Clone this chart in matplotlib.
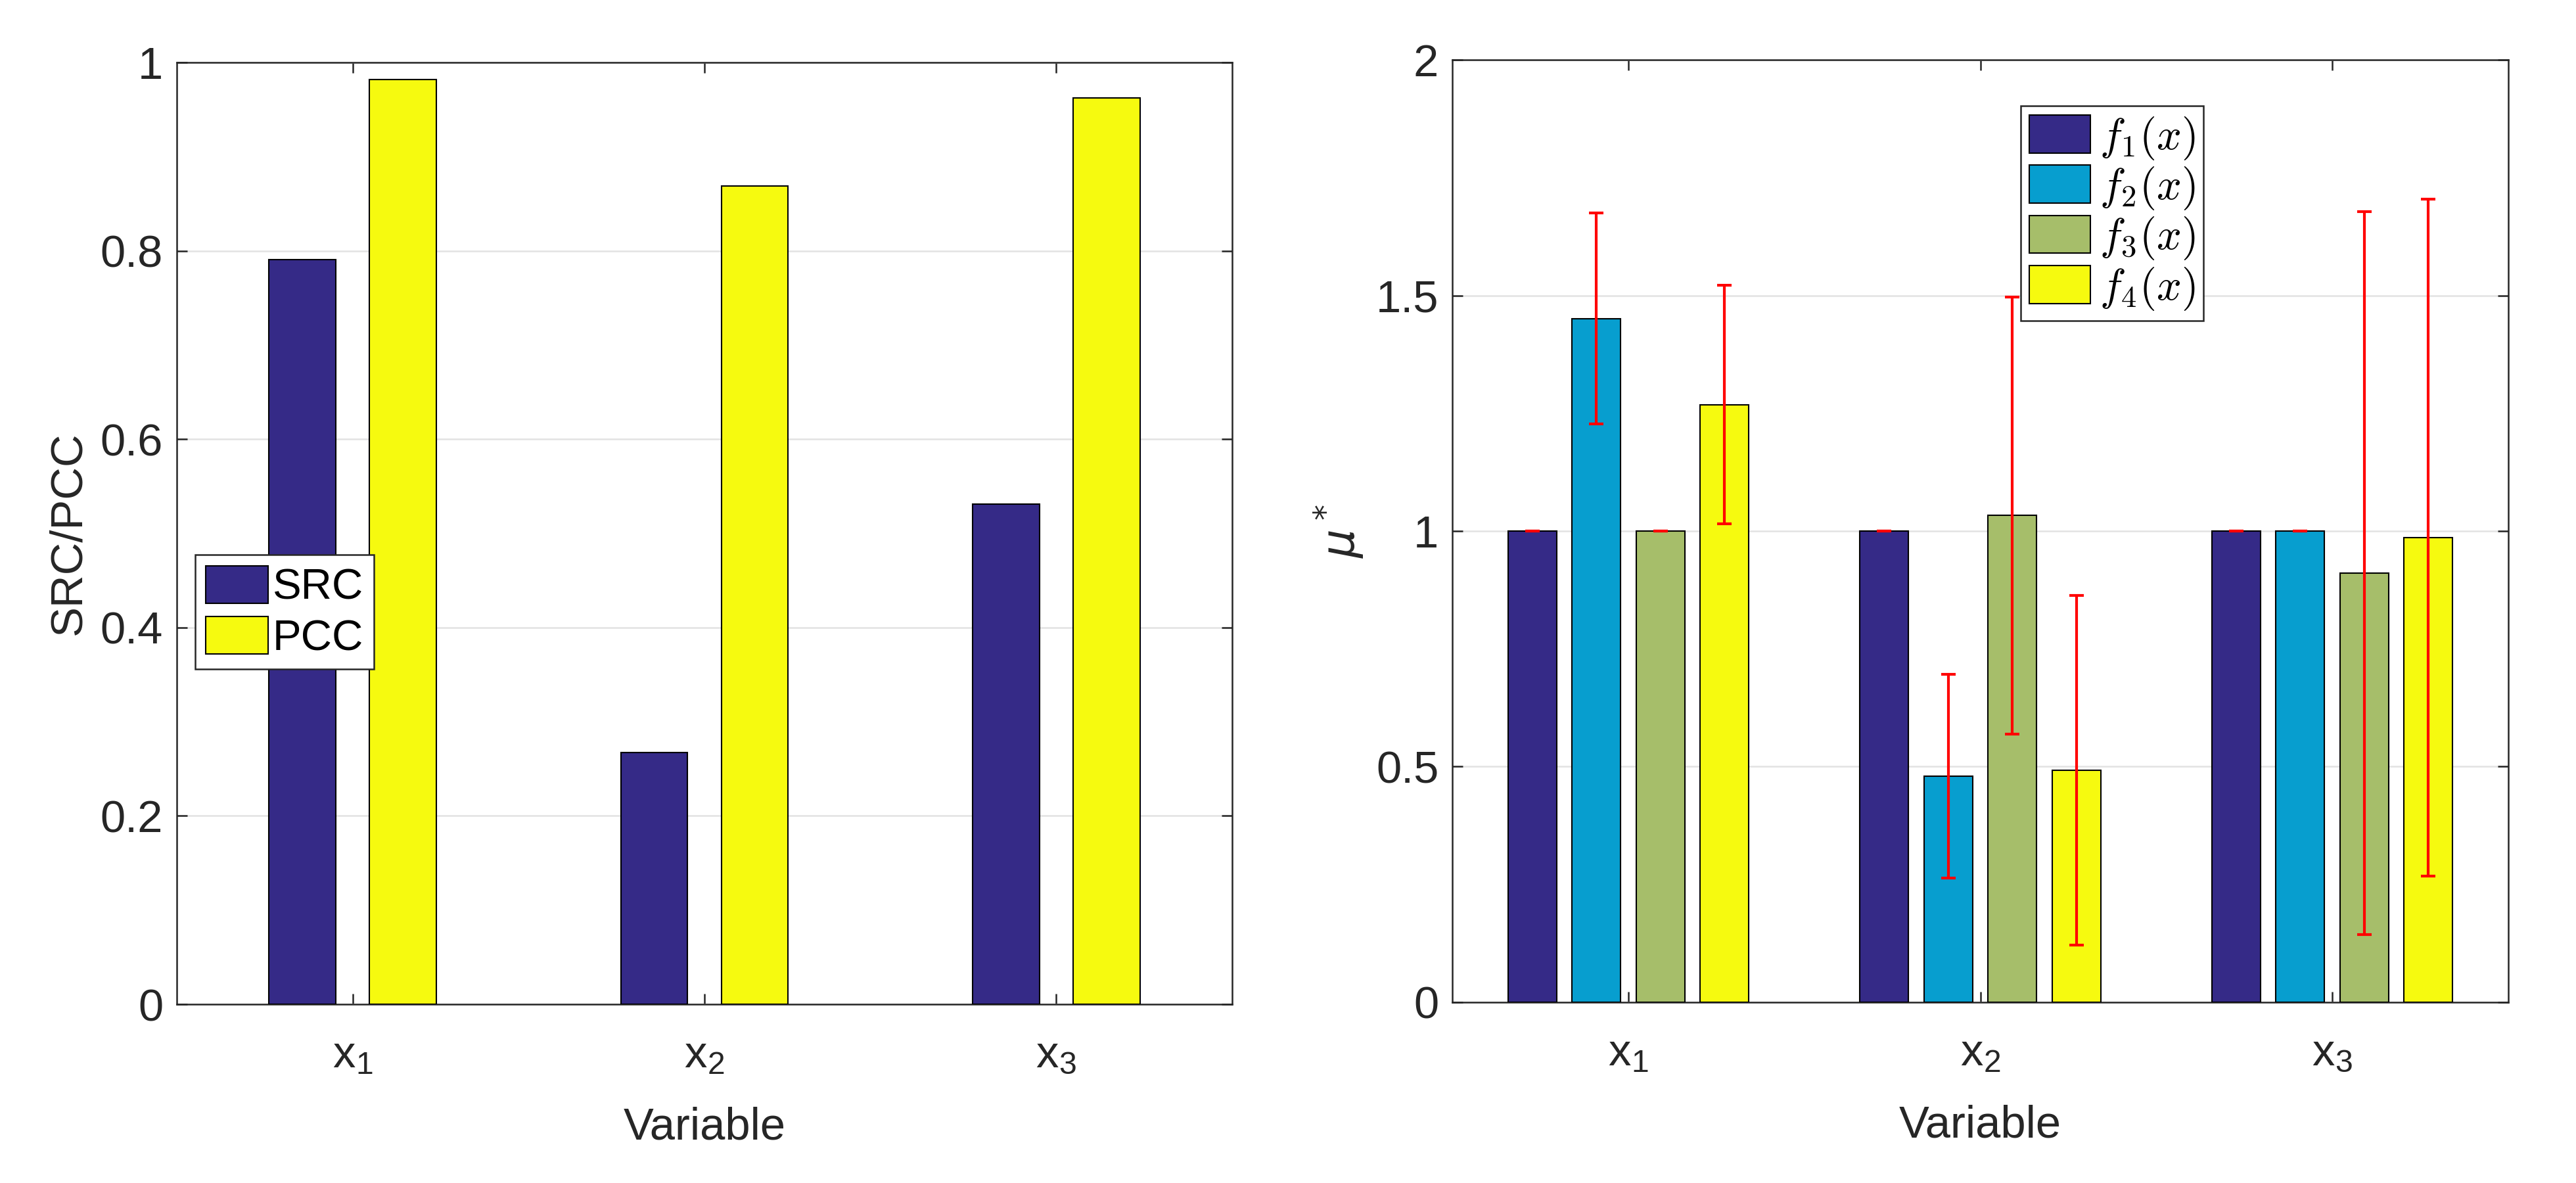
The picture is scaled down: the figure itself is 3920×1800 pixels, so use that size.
import matplotlib
matplotlib.use('Agg')
import matplotlib.pyplot as plt
from matplotlib.font_manager import FontProperties
from matplotlib.ticker import FixedLocator
import numpy as np

plt.rcParams['font.family'] = ['Liberation Sans', 'DejaVu Sans']
plt.rcParams['text.color'] = '#262626'
plt.rcParams['axes.labelcolor'] = '#262626'

# data
variables = [r'$\mathregular{x_1}$', r'$\mathregular{x_2}$', r'$\mathregular{x_3}$']
src = [0.791, 0.267, 0.531]
pcc = [0.982, 0.869, 0.962]

left_ticks = [0, 0.2, 0.4, 0.6, 0.8, 1]
left_ticklabels = ['0', '0.2', '0.4', '0.6', '0.8', '1']
right_ticks = [0, 0.5, 1, 1.5, 2]
right_ticklabels = ['0', '0.5', '1', '1.5', '2']

f_labels = [r'$f_1(x)$', r'$f_2(x)$', r'$f_3(x)$', r'$f_4(x)$']
# mu* per variable (rows) and function (cols)
mu_star = [
    [1.0, 1.451, 1.0, 1.268],
    [1.0, 0.480, 1.033, 0.492],
    [1.0, 1.0, 0.911, 0.986],
]
mu_err = [
    [0.0, 0.224, 0.0, 0.253],
    [0.0, 0.216, 0.464, 0.371],
    [0.0, 0.0, 0.767, 0.718],
]

dark_blue = '#352A87'
light_blue = '#079ECF'
green = '#A6BE6A'
yellow = '#F6FA0F'
edge = '#262626'
grid_col = '#E2E2E2'

fig = plt.figure(figsize=(13.0667, 6.0), dpi=300)
ax1 = fig.add_axes([0.0686, 0.1511, 0.4097, 0.7961])
ax2 = fig.add_axes([0.5638, 0.1528, 0.4099, 0.7966])


def style_axes(ax, ticks, ticklabels, ylim):
    ax.set_xlim(0.5, 3.5)
    ax.set_ylim(*ylim)
    ax.set_xticks([1, 2, 3])
    ax.set_xticklabels(variables)
    ax.yaxis.set_major_locator(FixedLocator(ticks))
    ax.set_yticklabels(ticklabels)
    ax.tick_params(direction='in', length=3.9, width=0.6, color=edge,
                   labelsize=16.5, labelcolor=edge, top=True, right=True)
    ax.tick_params(axis='x', pad=11)
    ax.tick_params(axis='y', pad=5)
    ax.grid(axis='y', color=grid_col, linewidth=0.6)
    ax.set_axisbelow(True)
    for s in ax.spines.values():
        s.set_color(edge)
        s.set_linewidth(0.6)
    ax.set_xlabel('Variable', fontsize=16.5, labelpad=11)


# left panel: SRC / PCC
x = np.arange(1, 4)
ax1.bar(x - 0.143, src, width=0.19, color=dark_blue, edgecolor='black', linewidth=0.5, label='SRC', zorder=3)
ax1.bar(x + 0.143, pcc, width=0.19, color=yellow, edgecolor='black', linewidth=0.5, label='PCC', zorder=3)
style_axes(ax1, left_ticks, left_ticklabels, (0, 1))
ax1.set_ylabel('SRC/PCC', fontsize=16.5, labelpad=4)
leg1 = ax1.legend(loc='upper left', bbox_to_anchor=(0.0174, 0.477),
                  prop=FontProperties(family=['Liberation Sans', 'DejaVu Sans'], size=15.7),
                  fancybox=False, framealpha=1, edgecolor=edge, borderpad=0.25,
                  handlelength=1.45, handleheight=0.97, handletextpad=0.1,
                  labelspacing=0.2, borderaxespad=0)
leg1.get_frame().set_linewidth(0.6)
for t in leg1.get_texts():
    t.set_color('black')

# right panel: mu*
mu = np.array(mu_star)
err = np.array(mu_err)
colors = [dark_blue, light_blue, green, yellow]
offsets = [-0.2727, -0.0909, 0.0909, 0.2727]
for j in range(4):
    ax2.bar(x + offsets[j], mu[:, j], width=0.138, color=colors[j], edgecolor='black',
            linewidth=0.5, label=f_labels[j], zorder=3)
for j in range(4):
    ax2.errorbar(x + offsets[j], mu[:, j], yerr=err[:, j], fmt='none', ecolor='red',
                 elinewidth=1.0, capsize=2.6, capthick=1.0, zorder=4)
style_axes(ax2, right_ticks, right_ticklabels, (0, 2))
ax2.set_ylabel(r'$\mu^*$', fontsize=16.5, labelpad=4)
leg2 = ax2.legend(loc='upper left', bbox_to_anchor=(0.538, 0.951),
                  prop=FontProperties(size=16, math_fontfamily='cm'),
                  fancybox=False, framealpha=1, edgecolor=edge, borderpad=0.2,
                  handlelength=1.4, handleheight=0.95, handletextpad=0.2,
                  labelspacing=0.08, borderaxespad=0)
leg2.get_frame().set_linewidth(0.6)
for t in leg2.get_texts():
    t.set_color('black')

fig.savefig('out.png', dpi=300)
